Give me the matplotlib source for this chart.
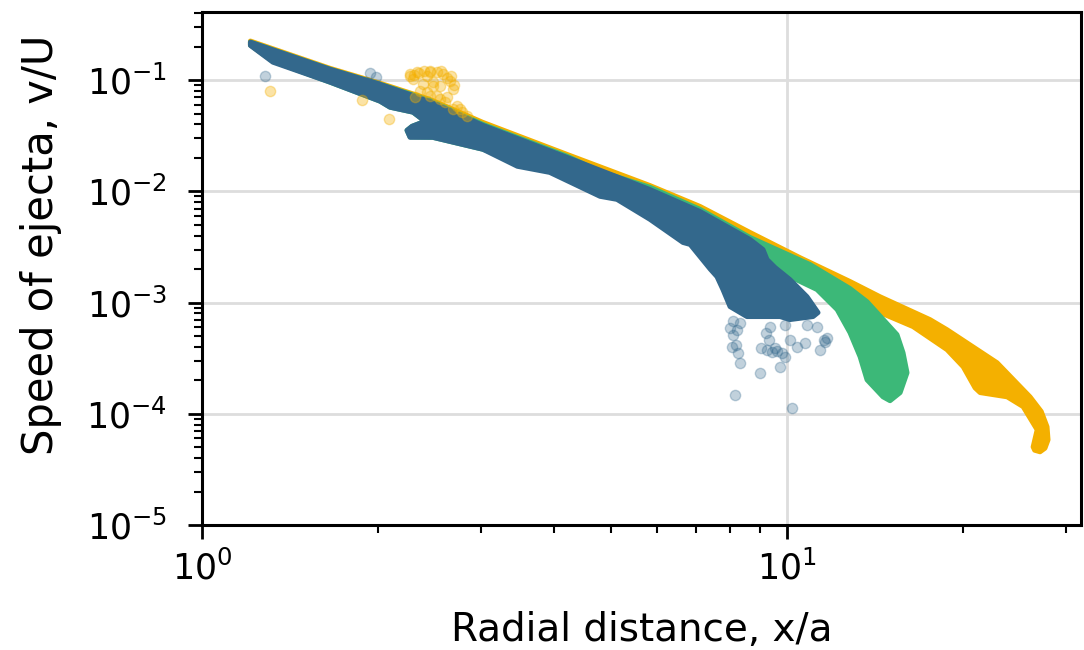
#!/usr/bin/env python3
"""
Ejecta speed against radial distance for three runs (log-log).
The dense point clouds are drawn as filled envelopes read off the
original figure, with the scattered stragglers drawn as single points.
"""

import matplotlib.pyplot as plt

# --- envelope of each cloud: (x, y) going along the top, then back along the bottom
orange_x = [1.21, 1.655, 2.015, 2.45, 3.02, 4.21, 5.83, 7.10, 8.65, 10.52, 12.81, 14.42,
            17.56, 18.77, 22.86, 26.03, 27.2, 27.83, 27.94, 27.6, 27.07,
            26.5, 26.34, 26.76, 25.32, 23.78, 21.38, 20.96, 20.0, 18.77, 16.42, 14.42,
            12.81, 10.52, 8.65, 5.83, 3.02, 2.015, 1.322, 1.21]
orange_y = [0.225, 0.128, 0.094, 0.0674, 0.0418, 0.0215, 0.0113, 0.00733, 0.00427, 0.00254,
            0.00155, 0.00113, 7.03e-4, 5.71e-4, 2.88e-4, 1.42e-4, 1.05e-4, 7.64e-5,
            5.83e-5, 4.9e-5, 4.55e-5,
            4.7e-5, 5.04e-5, 7.18e-5, 1.16e-4, 1.42e-4, 1.55e-4, 1.71e-4, 2.65e-4,
            3.77e-4, 6.08e-4, 8.13e-4, 1.11e-3, 1.98e-3, 3.33e-3, 8.47e-3, 0.0326,
            0.0674, 0.148, 0.207]

green_x = [1.21, 1.655, 2.015, 2.45, 3.02, 4.21, 4.79, 5.83, 7.10, 8.65, 10.95, 12.81,
           13.70, 15.42, 15.79, 16.04, 15.61, 15.0, 14.59, 13.70, 13.33, 12.81, 12.18,
           11.25, 10.12, 9.245, 8.0, 5.83, 3.02, 2.48, 2.268, 2.241, 2.286, 2.405,
           2.295, 2.096, 2.015, 1.655, 1.322, 1.21]
green_y = [0.22, 0.1256, 0.092, 0.066, 0.0401, 0.0207, 0.0151, 0.0109, 0.0069, 0.00385,
           0.00220, 0.00134, 0.00102, 5.15e-4, 3.54e-4, 2.34e-4, 1.55e-4, 1.31e-4,
           1.42e-4, 2.02e-4, 3.26e-4, 5.37e-4, 8.65e-4, 1.31e-3, 1.71e-3, 2.20e-3,
           0.003, 0.0075, 0.0239, 0.0306, 0.0309, 0.0354, 0.0385, 0.0427, 0.0515,
           0.0571, 0.0647, 0.0959, 0.148, 0.207]

blue_x = [1.21, 1.655, 2.015, 2.45, 3.02, 4.21, 5.83, 7.10, 8.65, 9.10, 9.245, 9.54,
          10.12, 10.82, 11.30, 11.08, 10.12, 9.73, 8.54, 7.99, 7.77, 7.59, 7.39, 6.83,
          6.64, 5.83, 5.12, 4.79, 3.93, 3.46, 3.02, 2.48, 2.268, 2.241, 2.286, 2.405,
          2.295, 2.096, 2.015, 1.655, 1.322, 1.21]
blue_y = [0.22, 0.1256, 0.092, 0.0647, 0.0393, 0.0202, 0.0104, 0.0066, 0.00369, 0.0030,
          0.00244, 0.00207, 0.00161, 0.00113, 8.13e-4, 7.48e-4, 7.03e-4, 7.48e-4,
          7.48e-4, 9.20e-4, 1.31e-3, 1.71e-3, 2.0e-3, 3.33e-3, 3.47e-3, 5.6e-3,
          8.47e-3, 9.02e-3, 0.0148, 0.0168, 0.0239, 0.0306, 0.0306, 0.0354, 0.0385,
          0.0427, 0.0515, 0.0571, 0.0647, 0.0959, 0.145, 0.205]

# --- isolated points
orange_pts_x = [2.268, 2.331, 2.453, 2.582, 2.654, 2.686, 2.623, 2.552, 2.453, 2.359,
                2.387, 2.483, 2.552, 2.729, 2.686, 2.295, 2.424, 2.313, 2.761, 2.838,
                2.522, 2.424, 2.483, 2.268, 2.35, 2.52, 2.62, 2.40, 2.70, 2.60,
                2.30, 2.56, 2.66, 2.78, 2.45,
                1.307, 1.877, 2.087]
orange_pts_y = [0.1087, 0.118, 0.1205, 0.1133, 0.098, 0.083, 0.0703, 0.0674, 0.0718,
                0.0796, 0.092, 0.0959, 0.0883, 0.0583, 0.0548, 0.102, 0.1087, 0.0703,
                0.0548, 0.0474, 0.0718, 0.078, 0.0883, 0.1133, 0.115, 0.118, 0.104,
                0.120, 0.090, 0.063, 0.112, 0.121, 0.108, 0.052, 0.119,
                0.0796, 0.066, 0.0445]

blue_pts_x = [8.15, 10.20, 8.99, 9.73, 8.31, 8.05, 9.245, 9.54, 9.92, 11.39, 11.71, 11.25,
              10.82, 10.12, 10.40, 10.73, 8.21, 7.99, 8.31, 9.92, 9.35, 9.03, 9.43, 8.09,
              8.18, 9.60, 9.80, 9.20, 9.30, 11.55, 11.60, 8.25, 8.10, 1.281, 1.937, 1.984]
blue_pts_y = [1.48e-4, 1.13e-4, 2.34e-4, 2.65e-4, 2.88e-4, 4.01e-4, 3.77e-4, 3.93e-4,
              3.26e-4, 3.77e-4, 4.84e-4, 6.08e-4, 6.33e-4, 4.64e-4, 4.01e-4, 4.36e-4,
              5.71e-4, 5.95e-4, 6.61e-4, 6.33e-4, 6.08e-4, 3.93e-4, 3.62e-4, 5.15e-4,
              4.18e-4, 3.70e-4, 3.50e-4, 5.30e-4, 4.60e-4, 4.60e-4, 4.40e-4, 3.50e-4,
              6.90e-4, 0.1087, 0.1156, 0.1064]

ORANGE = '#f4b000'
GREEN = '#3cb878'
BLUE = '#33688c'

plt.rcParams['font.family'] = ['DejaVu Sans']
plt.rcParams['mathtext.fontset'] = 'dejavusans'

fig = plt.figure(figsize=(10.84, 6.5), dpi=100)
ax = fig.add_axes([0.1863, 0.1923, 0.8109, 0.7892])

# clouds, drawn in the same order as the original runs
for xs, ys, c in [(orange_x, orange_y, ORANGE), (green_x, green_y, GREEN),
                  (blue_x, blue_y, BLUE)]:
    ax.fill(xs, ys, color=c, lw=3.5, joinstyle='round', zorder=2)

ax.scatter(orange_pts_x, orange_pts_y, s=55, color=ORANGE, alpha=0.35, lw=1, zorder=2)
ax.scatter(blue_pts_x, blue_pts_y, s=55, color=BLUE, alpha=0.3, lw=1, zorder=3)

ax.set_xscale('log')
ax.set_yscale('log')
ax.set_xlim(1, 31.8)
ax.set_ylim(1e-5, 0.41)

ax.grid(True, which='major', color='#dddddd', lw=2)
ax.set_axisbelow(True)

for s in ax.spines.values():
    s.set_linewidth(2.2)
ax.tick_params(which='major', length=10, width=2)
ax.tick_params(which='minor', length=6, width=1.5)
ax.tick_params(axis='y', labelsize=25, pad=15)
ax.tick_params(axis='x', labelsize=25, pad=8)

ax.set_xlabel('Radial distance, x/a', fontsize=28, labelpad=18)
ax.set_ylabel('Speed of ejecta, v/U', fontsize=30, labelpad=12)
ax.yaxis.set_label_coords(-0.159, 0.546)

fig.savefig('out.png', dpi=100)
